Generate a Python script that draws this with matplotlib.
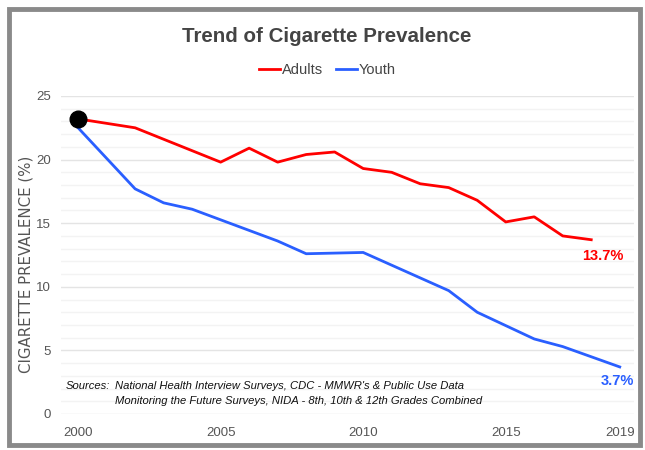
import matplotlib
matplotlib.use("Agg")
import matplotlib.pyplot as plt
from matplotlib.patches import Rectangle

# ---- data ----
adult_years = [2000, 2002, 2005, 2006, 2007, 2008, 2009, 2010, 2011, 2012, 2013, 2014, 2015, 2016, 2017, 2018]
adult_vals = [23.2, 22.5, 19.8, 20.9, 19.8, 20.4, 20.6, 19.3, 19.0, 18.1, 17.8, 16.8, 15.1, 15.5, 14.0, 13.7]
youth_years = [2000, 2002, 2003, 2004, 2007, 2008, 2010, 2013, 2014, 2016, 2017, 2019]
youth_vals = [22.5, 17.7, 16.6, 16.1, 13.6, 12.6, 12.7, 9.7, 8.0, 5.9, 5.3, 3.7]
x_ticks = [2000, 2005, 2010, 2015, 2019]
y_ticks = [0, 5, 10, 15, 20, 25]

RED = "#ff0000"
BLUE = "#2a5fff"
NARROW = ["Liberation Sans Narrow", "DejaVu Sans Condensed", "Liberation Sans", "DejaVu Sans"]
SANS = ["Liberation Sans", "DejaVu Sans"]

fig = plt.figure(figsize=(6.45, 4.5), dpi=100)
W, H = 645, 450

def fx(px):
    return px / W

def fy(py):
    return 1 - py / H

# frame
fig.patches.append(Rectangle((fx(9), fy(445)), fx(631), 436 / H, transform=fig.transFigure,
                             fill=False, edgecolor="#8a8a8a", linewidth=3.5, zorder=0))

ax = fig.add_axes([fx(61), fy(414), fx(634) - fx(61), (414 - 96) / H])
ax.set_xlim(1999.4, 2019.5)
ax.set_ylim(0, 25)

ax.plot(adult_years, adult_vals, color=RED, linewidth=2.0, solid_joinstyle="round", zorder=3, label="Adults")
ax.plot(youth_years, youth_vals, color=BLUE, linewidth=2.0, solid_joinstyle="round", zorder=3, label="Youth")
ax.plot([adult_years[0]], [adult_vals[0]], marker="o", markersize=12, color="black", zorder=4)

ax.set_yticks(y_ticks)
ax.set_yticks(range(0, 26), minor=True)
ax.set_xticks(x_ticks)
ax.set_xticklabels([str(t) for t in x_ticks])
ax.grid(True, which="major", axis="y", color="#e4e4e4", linewidth=1.0, zorder=0)
ax.grid(True, which="minor", axis="y", color="#f3f3f3", linewidth=1.0, zorder=0)
ax.tick_params(axis="both", which="both", length=0, labelsize=9.5, labelcolor="#555555")
ax.tick_params(axis="x", pad=9)
ax.tick_params(axis="y", pad=7)
for lab in ax.get_xticklabels() + ax.get_yticklabels():
    lab.set_fontfamily(SANS)
for s in ax.spines.values():
    s.set_visible(False)

ax.set_ylabel("CIGARETTE PREVALENCE (%)", fontsize=10.8, color="#555555", family=["DejaVu Sans"])
ax.yaxis.set_label_coords((34 - 61) / 573, 0.47)

fig.text(0.507, fy(37), "Trend of Cigarette Prevalence", ha="center", va="center",
         fontsize=14.8, fontweight="bold", color="#444444", family=NARROW)

leg = fig.legend(loc="center", bbox_to_anchor=(0.508, fy(70)), ncol=2, frameon=False,
                 handlelength=1.4, handletextpad=0.15, columnspacing=0.9,
                 prop={"family": NARROW, "size": 10.5})
for t in leg.get_texts():
    t.set_color("#444444")

ax.annotate("13.7%", xy=(adult_years[-1], adult_vals[-1]), xytext=(8, -12), textcoords="offset points",
            ha="center", va="center", color=RED, fontsize=10.5, fontweight="bold", family=NARROW)
ax.annotate("3.7%", xy=(youth_years[-1], youth_vals[-1]), xytext=(-2, -10), textcoords="offset points",
            ha="center", va="center", color=BLUE, fontsize=10.5, fontweight="bold", family=NARROW)

SRC = dict(ha="left", va="center", fontsize=8.1, style="italic", color="#111111", family=SANS)
fig.text(fx(66), fy(386), "Sources:", **SRC)
fig.text(fx(115), fy(386), "National Health Interview Surveys, CDC - MMWR's & Public Use Data", **SRC)
fig.text(fx(115), fy(401), "Monitoring the Future Surveys, NIDA - 8th, 10th & 12th Grades Combined", **SRC)

fig.savefig("out.png", dpi=100)
